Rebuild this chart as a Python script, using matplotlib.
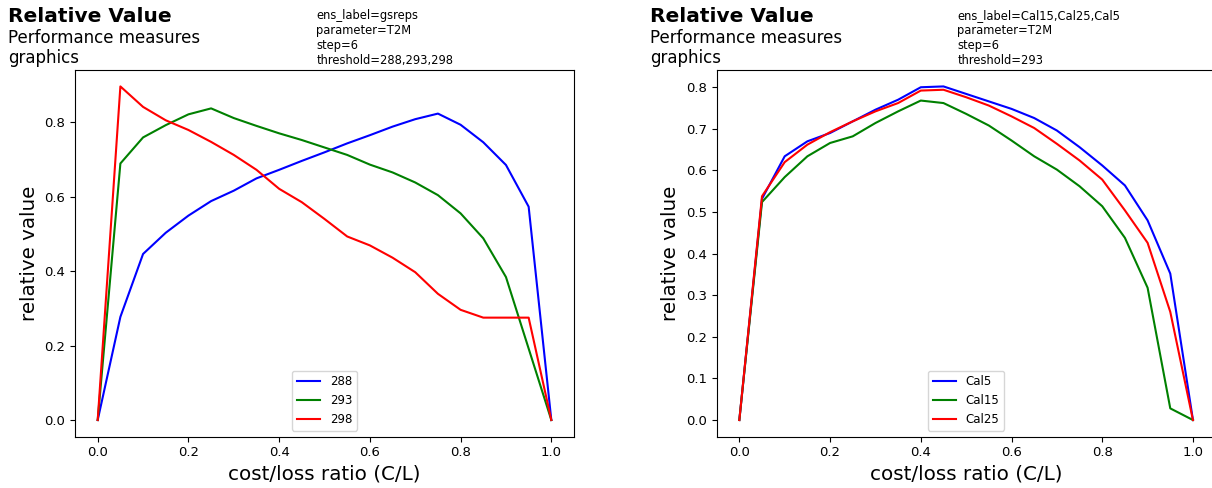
import matplotlib
matplotlib.use("Agg")
import matplotlib.pyplot as plt

# cost/loss ratio grid
cl = [0.0, 0.05, 0.1, 0.15, 0.2, 0.25, 0.3, 0.35, 0.4, 0.45, 0.5,
      0.55, 0.6, 0.65, 0.7, 0.75, 0.8, 0.85, 0.9, 0.95, 1.0]

# left panel: thresholds 288, 293, 298
thr_labels = ["288", "293", "298"]
v288 = [0.0, 0.277, 0.446, 0.503, 0.549, 0.588, 0.616, 0.649, 0.672, 0.696, 0.719,
        0.743, 0.765, 0.788, 0.808, 0.823, 0.793, 0.746, 0.685, 0.573, 0.0]
v293 = [0.0, 0.689, 0.759, 0.792, 0.821, 0.837, 0.811, 0.790, 0.770, 0.752, 0.732,
        0.712, 0.686, 0.665, 0.638, 0.604, 0.555, 0.488, 0.384, 0.192, 0.0]
v298 = [0.0, 0.896, 0.841, 0.805, 0.779, 0.747, 0.712, 0.672, 0.621, 0.585, 0.540,
        0.493, 0.469, 0.436, 0.397, 0.339, 0.296, 0.275, 0.275, 0.275, 0.0]

# right panel: ensembles at threshold 293
ens_labels = ["Cal5", "Cal15", "Cal25"]
cal5 = [0.0, 0.532, 0.634, 0.670, 0.690, 0.718, 0.746, 0.770, 0.800, 0.802, 0.784,
        0.766, 0.748, 0.726, 0.696, 0.656, 0.612, 0.564, 0.480, 0.352, 0.0]
cal15 = [0.0, 0.524, 0.584, 0.634, 0.666, 0.682, 0.714, 0.742, 0.768, 0.762, 0.736,
         0.708, 0.672, 0.634, 0.602, 0.562, 0.514, 0.438, 0.318, 0.028, 0.0]
cal25 = [0.0, 0.538, 0.620, 0.662, 0.692, 0.718, 0.742, 0.762, 0.792, 0.794, 0.776,
         0.756, 0.730, 0.702, 0.664, 0.624, 0.578, 0.504, 0.426, 0.260, 0.0]

info_left = "ens_label=gsreps\nparameter=T2M\nstep=6\nthreshold=288,293,298"
info_right = "ens_label=Cal15,Cal25,Cal5\nparameter=T2M\nstep=6\nthreshold=293"

colours = ["blue", "green", "red"]

fig = plt.figure(figsize=(12.12, 4.88), dpi=100)
ax1 = fig.add_axes([0.0619, 0.1051, 0.4117, 0.752])
ax2 = fig.add_axes([0.5913, 0.1051, 0.4117, 0.752])

for ax, series, labels in [(ax1, [v288, v293, v298], thr_labels),
                           (ax2, [cal5, cal15, cal25], ens_labels)]:
    for s, lab, c in zip(series, labels, colours):
        ax.plot(cl, s, color=c, lw=1.5, label=lab)
    ax.set_xlabel("cost/loss ratio (C/L)", fontsize=14.3)
    ax.set_ylabel("relative value", fontsize=14.3)
    ax.tick_params(labelsize=9.5)
    ax.legend(loc="lower center", fontsize=8.5)

# header blocks
for x0, xinfo, info in [(0.0066, 0.261, info_left), (0.536, 0.790, info_right)]:
    fig.text(x0, 0.985, "Relative Value", fontsize=14.5, fontweight="bold", va="top")
    fig.text(x0, 0.94, "Performance measures\ngraphics", fontsize=12, va="top",
             linespacing=1.15)
    fig.text(xinfo, 0.982, info, fontsize=8.3, va="top", linespacing=1.2)

fig.savefig("out.png", dpi=100)
